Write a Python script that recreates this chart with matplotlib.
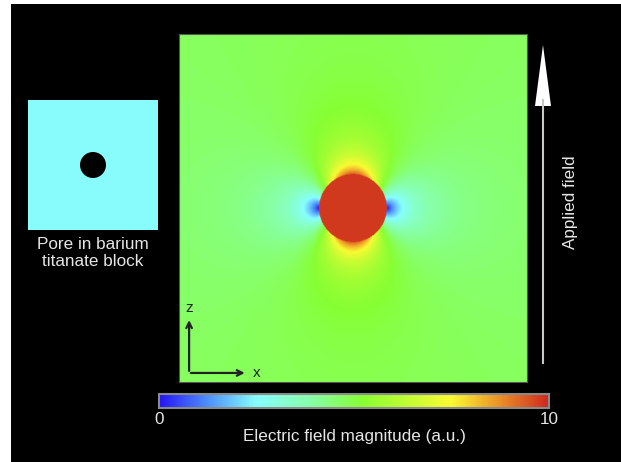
import numpy as np
import matplotlib.pyplot as plt
from matplotlib.colors import LinearSegmentedColormap
from matplotlib.patches import Rectangle, Circle, Polygon

plt.rcParams['font.family'] = ['Liberation Sans', 'DejaVu Sans']

# values
field_range = [0, 10]            # colour scale (a.u.)
background_field = 4.7           # applied field far from the pore
pore_field = 9.8                 # field inside the pore
pore_radius = 0.195              # pore radius, in units of half the block width
tick_labels = ['0', '10']
cbar_label = 'Electric field magnitude (a.u.)'
inset_label = 'Pore in barium\ntitanate block'

# colour scale nodes
cmap = LinearSegmentedColormap.from_list('efield', [
    (0.00, (0.14, 0.08, 0.96)),
    (0.12, (0.30, 0.55, 0.98)),
    (0.25, (0.53, 1.00, 1.00)),
    (0.40, (0.53, 1.00, 0.62)),
    (0.52, (0.53, 1.00, 0.20)),
    (0.75, (0.98, 0.98, 0.20)),
    (0.88, (0.92, 0.55, 0.15)),
    (1.00, (0.80, 0.16, 0.12)),
])

# field around a cylindrical pore, applied field along z
x = np.linspace(-1, 1, 500)
z = np.linspace(-1, 1, 500)
X, Z = np.meshgrid(x, z)
r = np.hypot(X, Z)
cos_t = Z / np.maximum(r, 1e-9)
sin_t = X / np.maximum(r, 1e-9)
q = pore_radius**2 / np.maximum(r, 1e-9)**2
E = background_field * np.sqrt(((1 + q) * cos_t)**2 + ((1 - q) * sin_t)**2)
E[r < pore_radius] = pore_field

fig = plt.figure(figsize=(6.21, 4.62), dpi=100, facecolor='white')
fig.patches.append(Rectangle((11 / 621, 0), 1, 1 - 4 / 462, transform=fig.transFigure,
                             facecolor='black', edgecolor='none', zorder=-10))

# main field map
ax = fig.add_axes([179 / 621, 80 / 462, 348 / 621, 348 / 462])
im = ax.imshow(E, cmap=cmap, vmin=field_range[0], vmax=field_range[1],
               extent=[-1, 1, -1, 1], origin='lower', interpolation='bilinear')
ax.set_xticks([])
ax.set_yticks([])
for s in ax.spines.values():
    s.set_color('#555555')
    s.set_linewidth(0.8)

# x / z axis indicator
ax.annotate('', xy=(0.029, 0.186), xytext=(0.029, 0.024), xycoords='axes fraction',
            arrowprops=dict(arrowstyle='->', color='#222222', lw=1.6))
ax.annotate('', xy=(0.197, 0.026), xytext=(0.026, 0.026), xycoords='axes fraction',
            arrowprops=dict(arrowstyle='->', color='#222222', lw=1.6))
ax.text(0.029, 0.212, 'z', transform=ax.transAxes, ha='center', va='center',
        fontsize=11, color='#222222')
ax.text(0.224, 0.026, 'x', transform=ax.transAxes, ha='center', va='center',
        fontsize=11, color='#222222')

# colour bar
cax = fig.add_axes([159 / 621, 54 / 462, 390 / 621, 14 / 462])
cb = fig.colorbar(im, cax=cax, orientation='horizontal', ticks=field_range)
cb.outline.set_edgecolor('#8a8a8a')
cb.outline.set_linewidth(1.5)
cax.tick_params(length=0, pad=3, labelsize=12.3, colors='#e6e6e6')
cax.set_xticklabels(tick_labels)
cb.set_label(cbar_label, color='#e6e6e6', fontsize=12.3, labelpad=1)

# inset: pore in block
iax = fig.add_axes([28 / 621, 232 / 462, 130 / 621, 130 / 462])
iax.set_xlim(0, 1)
iax.set_ylim(0, 1)
iax.add_patch(Rectangle((0, 0), 1, 1, facecolor='#88fcfc', edgecolor='none'))
iax.add_patch(Circle((0.5, 0.5), 0.1, facecolor='black', edgecolor='none'))
iax.axis('off')
fig.text(93 / 621, 1 - 253 / 462, inset_label, ha='center', va='center',
         fontsize=12.3, color='#e6e6e6', linespacing=1.2)

# applied field arrow
fig.add_artist(plt.Line2D([543 / 621, 543 / 621], [1 - 363 / 462, 1 - 100 / 462],
                          transform=fig.transFigure, color='#c8c8c8', lw=1.5))
fig.add_artist(Polygon([[535 / 621, 1 - 106 / 462], [551 / 621, 1 - 106 / 462],
                        [543 / 621, 1 - 45 / 462]], closed=True,
                       transform=fig.transFigure, facecolor='white', edgecolor='none'))
fig.text(570 / 621, 1 - 202 / 462, 'Applied field', rotation=90, ha='center',
         va='center', fontsize=12.3, color='#e6e6e6')

fig.savefig('out.png', dpi=100, facecolor=fig.get_facecolor())
